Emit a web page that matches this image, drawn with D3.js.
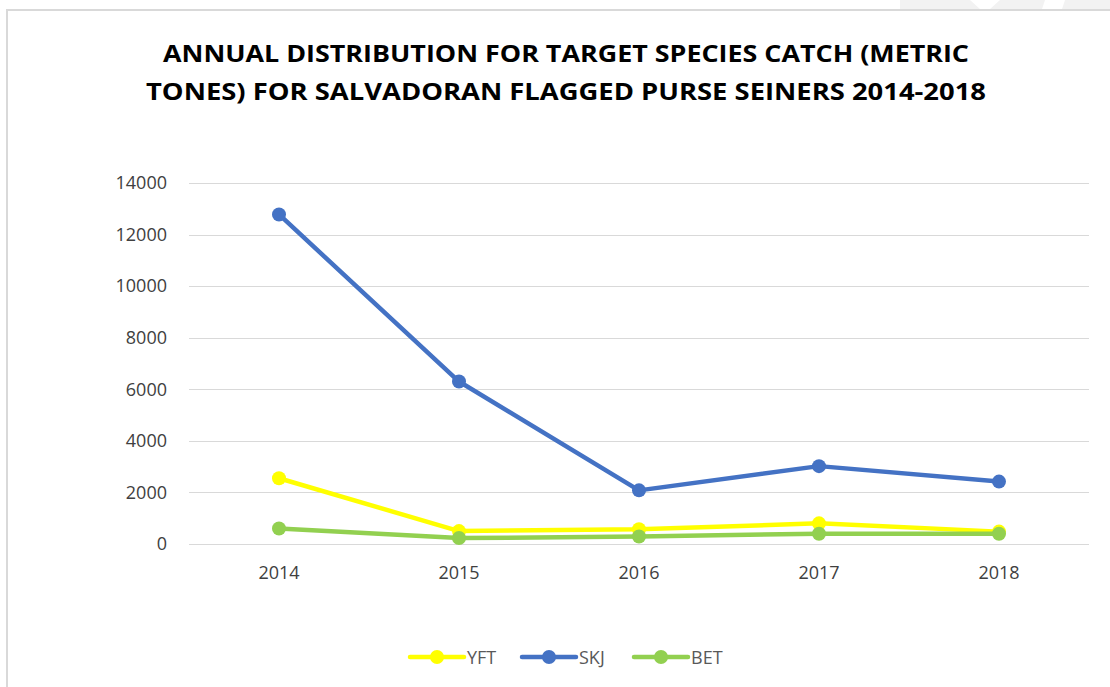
<!DOCTYPE html>
<html>
<head>
<meta charset="utf-8">
<script src="https://cdn.jsdelivr.net/npm/d3@7"></script>
<style>
  body { margin: 0; background: #fff; }
  svg { display: block; font-family: "Open Sans", "Liberation Sans", sans-serif; }
</style>
</head>
<body>
<div id="vis-container"></div>
<script>
// Data
var years = ['2014', '2015', '2016', '2017', '2018']
var yft = [2550, 500, 570, 800, 480]
var skj = [12780, 6300, 2080, 3020, 2420]
var bet = [600, 230, 290, 400, 400]
var yTicks = [0, 2000, 4000, 6000, 8000, 10000, 12000, 14000]
var titleLines = ['ANNUAL DISTRIBUTION FOR TARGET SPECIES CATCH (METRIC',
                  'TONES) FOR SALVADORAN FLAGGED PURSE SEINERS 2014-2018']

var series = [
  { name: 'YFT', values: yft, color: '#ffff00' },
  { name: 'SKJ', values: skj, color: '#4472c4' },
  { name: 'BET', values: bet, color: '#92d050' }
]

var W = 1110, H = 687
var margin = { top: 183, right: 21, bottom: 143, left: 189 }
var w = W - margin.left - margin.right
var h = H - margin.top - margin.bottom

var svg = d3.select('#vis-container').append('svg')
    .attr('width', W)
    .attr('height', H)

// frame
svg.append('rect')
    .attr('x', 900).attr('y', 0).attr('width', 210).attr('height', 9)
    .attr('fill', '#f2f2f2')
svg.append('path')
    .attr('d', 'M970,0 L1000,0 L990,9 L980,9 Z M1045,0 L1065,0 L1062,9 L1042,9 Z')
    .attr('fill', '#ffffff')
svg.append('path')
    .attr('d', 'M7,' + H + ' L7,10 L' + W + ',10')
    .attr('fill', 'none')
    .attr('stroke', '#d9d9d9')
    .attr('stroke-width', 2)

// title
svg.append('g').selectAll('text')
    .data(titleLines)
    .enter()
  .append('text')
    .attr('x', 566)
    .attr('y', function (d, i) { return 62 + i * 38 })
    .attr('text-anchor', 'middle')
    .attr('font-size', 24)
    .attr('font-weight', 'bold')
    .attr('fill', '#000')
    .attr('textLength', function (d, i) { return i == 0 ? 806 : 840 })
    .attr('lengthAdjust', 'spacingAndGlyphs')
    .text(function (d) { return d })

var g = svg.append('g')
    .attr('transform', 'translate(' + margin.left + ',' + margin.top + ')')

// Scales
var xScale = d3.scaleBand().domain(years).range([0, w])
var yScale = d3.scaleLinear().domain([0, 14000]).range([h, 0])

// gridlines
g.append('g').selectAll('line')
    .data(yTicks)
    .enter()
  .append('line')
    .attr('x1', 0).attr('x2', w)
    .attr('y1', function (d) { return Math.round(yScale(d)) + 0.5 })
    .attr('y2', function (d) { return Math.round(yScale(d)) + 0.5 })
    .attr('stroke', '#d9d9d9')
    .attr('stroke-width', 1)

// axes
var yAxis = d3.axisLeft(yScale).tickValues(yTicks).tickFormat(d3.format('d'))
    .tickSize(0).tickPadding(22)
var yG = g.append('g').call(yAxis)
yG.select('.domain').remove()
yG.selectAll('text').attr('font-size', 18).attr('fill', '#404040')
    .attr('font-family', '"Open Sans", sans-serif')

var xAxis = d3.axisBottom(xScale).tickSize(0).tickPadding(22)
var xG = g.append('g').attr('transform', 'translate(0,' + h + ')').call(xAxis)
xG.select('.domain').remove()
xG.selectAll('text').attr('font-size', 18).attr('fill', '#404040')
    .attr('font-family', '"Open Sans", sans-serif')

var cx = function (d, i) { return xScale(years[i]) + xScale.bandwidth() / 2 }
var line = d3.line()
    .x(cx)
    .y(function (d) { return yScale(d) })

// lines + markers
series.forEach(function (s) {
  g.append('path')
      .datum(s.values)
      .attr('d', line)
      .attr('fill', 'none')
      .attr('stroke', s.color)
      .attr('stroke-width', 4.5)
      .attr('stroke-linejoin', 'round')
      .attr('stroke-linecap', 'round')
  g.append('g').selectAll('circle')
      .data(s.values)
      .enter()
    .append('circle')
      .attr('cx', cx)
      .attr('cy', function (d) { return yScale(d) })
      .attr('r', 7)
      .attr('fill', s.color)
})

// legend
var legend = svg.append('g').attr('transform', 'translate(410,657)')
var item = legend.selectAll('g')
    .data(series)
    .enter()
  .append('g')
    .attr('transform', function (d, i) { return 'translate(' + (i * 112) + ',0)' })
item.append('line')
    .attr('x1', 0).attr('x2', 54).attr('y1', 0).attr('y2', 0)
    .attr('stroke', function (d) { return d.color })
    .attr('stroke-width', 4.5)
    .attr('stroke-linecap', 'round')
item.append('circle')
    .attr('cx', 27).attr('cy', 0).attr('r', 7)
    .attr('fill', function (d) { return d.color })
item.append('text')
    .attr('x', 57).attr('y', 7)
    .attr('font-size', 18)
    .attr('fill', '#595959')
    .text(function (d) { return d.name })
</script>
</body>
</html>
